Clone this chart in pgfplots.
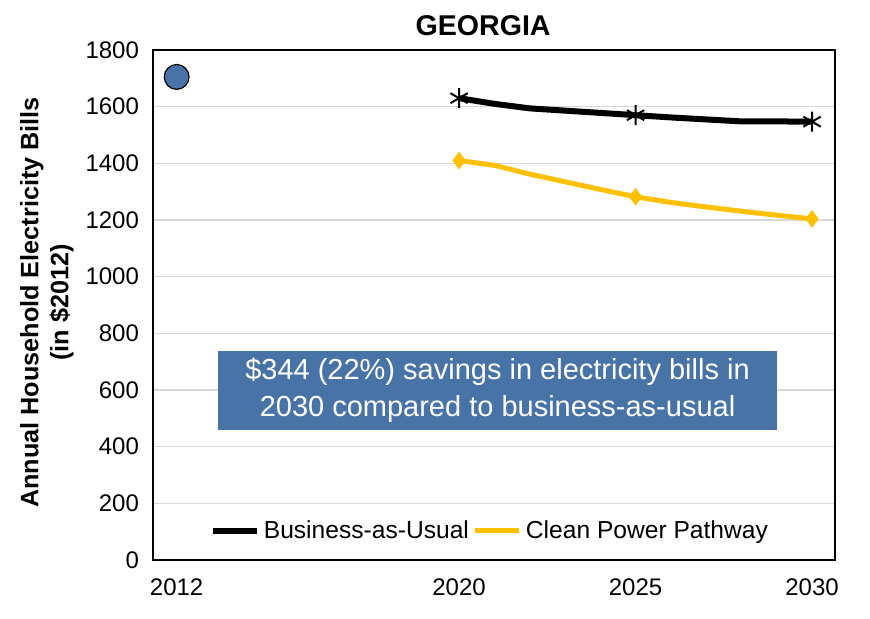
\documentclass[border=0pt]{standalone}
\usepackage{fontspec}
\setmainfont{Liberation Sans}
\usepackage{pgfplots}
\pgfplotsset{compat=1.18}
\definecolor{boxblue}{HTML}{4773A7}
\definecolor{cppyellow}{HTML}{FFC000}
\definecolor{gridgray}{HTML}{D9D9D9}
\begin{document}
\begin{tikzpicture}
\path[use as bounding box] (-76.5pt,-29pt) rectangle (358.5pt,280pt);
\begin{axis}[
  at={(0pt,0pt)}, anchor=south west,
  scale only axis, width=341pt, height=255pt,
  xmin=2011.33, xmax=2030.65,
  ymin=0, ymax=1800,
  xtick={2012,2020,2025,2030},
  ytick={0,200,...,1800},
  ymajorgrids=true,
  grid style={gridgray, line width=0.8pt},
  axis line style={black, line width=1pt},
  major tick length=0pt,
  tick label style={font=\fontsize{12}{14}\selectfont},
  /pgf/number format/assume math mode=true,
  /pgf/number format/1000 sep={},
  xticklabel style={yshift=-6pt},
  yticklabel style={xshift=-3.5pt},
  ylabel={Annual Household Electricity Bills\\(in \$2012)},
  ylabel style={at={(axis description cs:-0.106,0.505)}, anchor=south, rotate=0,
    align=center, font=\fontsize{12.6}{15}\selectfont\bfseries},
  clip=false,
  legend columns=2,
  legend style={at={(0.494,0.057)}, anchor=center, draw=none, fill=none,
    font=\fontsize{12.3}{14}\selectfont, column sep=1pt, nodes={inner sep=1pt}},
  legend image code/.code={\draw[#1] (0pt,0pt) -- (22pt,0pt);},
]
\addplot[black, line width=3pt, mark=asterisk, mark size=5pt,
  mark options={solid, line width=1pt}, mark indices={1,6,11}]
  coordinates {(2020,1630) (2021,1610) (2022,1594) (2023,1586) (2024,1578) (2025,1570)
  (2026,1562) (2027,1555) (2028,1548) (2029,1548) (2030,1547)};
\addlegendentry{Business-as-Usual}
\addplot[cppyellow, line width=2.5pt, mark=diamond*, mark size=4pt,
  mark options={solid, line width=0.5pt}, mark indices={1,6,11}]
  coordinates {(2020,1410) (2021,1393) (2022,1362) (2023,1335) (2024,1308) (2025,1282)
  (2026,1262) (2027,1246) (2028,1231) (2029,1217) (2030,1204)};
\addlegendentry{Clean Power Pathway}
\addplot[only marks, mark=*, mark size=6.2pt, mark options={fill=boxblue, draw=black, line width=0.6pt},
  forget plot] coordinates {(2012,1705)};
\node[fill=boxblue, text=white, align=center, minimum width=279.5pt, minimum height=39.5pt,
  inner sep=0pt, font=\fontsize{14.5}{18.5}\selectfont]
  at (axis cs:2021.09,598) {\$344 (22\%) savings in electricity bills in\\2030 compared to business-as-usual};
\node[anchor=base, font=\fontsize{14.3}{16}\selectfont\bfseries] at (rel axis cs:0.484,1) [yshift=7.5pt] {GEORGIA};
\end{axis}
\end{tikzpicture}
\end{document}
